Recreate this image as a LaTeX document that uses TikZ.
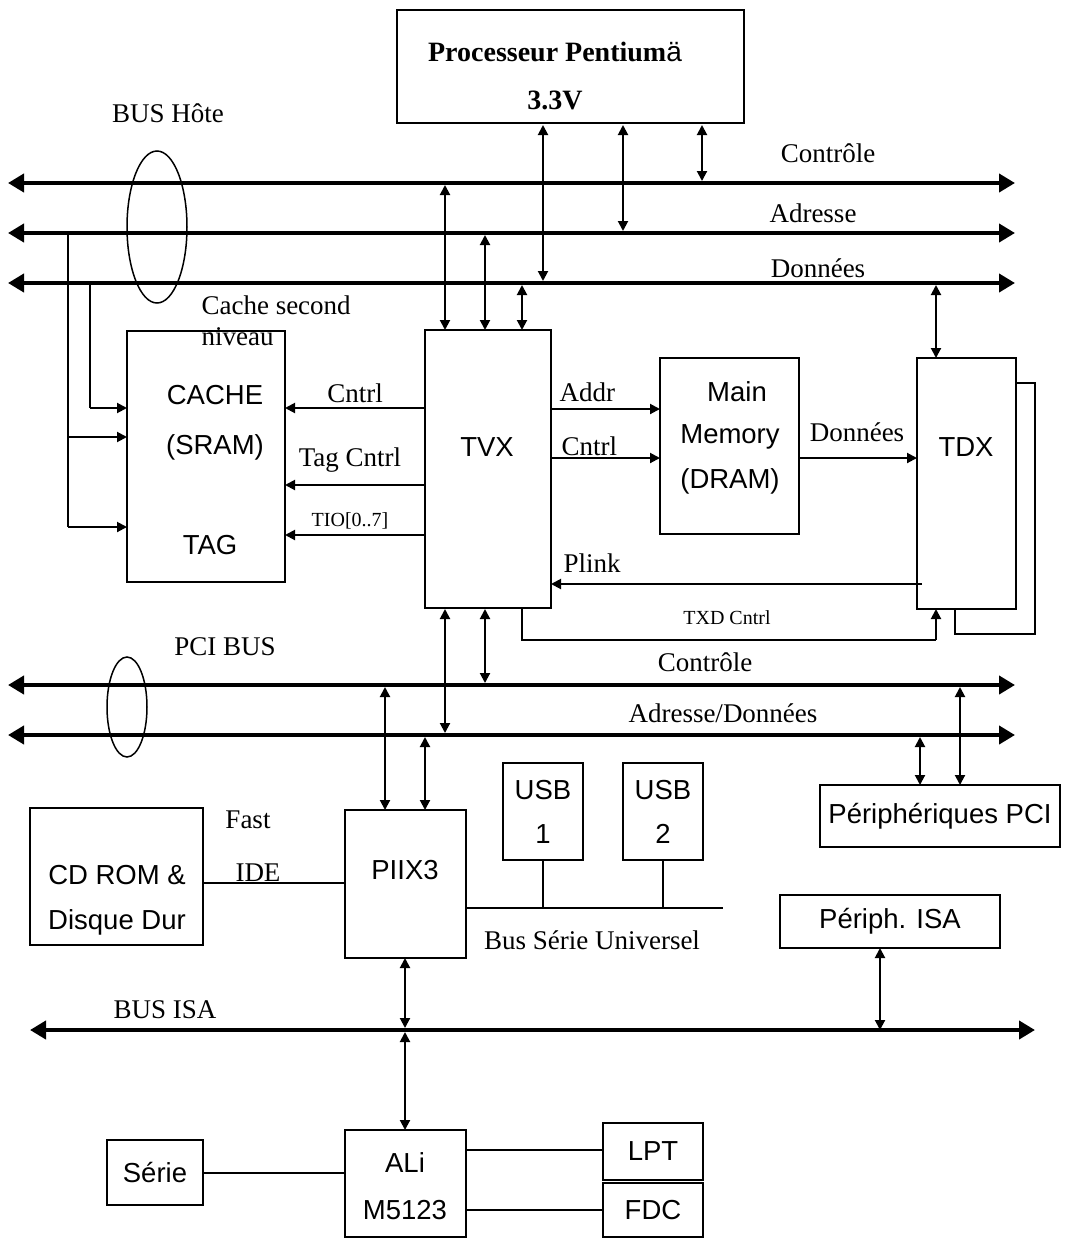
\documentclass[tikz,border=0pt]{standalone}
\usepackage{fontspec}
\setmainfont{Liberation Serif}
\setsansfont{Liberation Sans}
\usetikzlibrary{arrows.meta}
\begin{document}
\begin{tikzpicture}[x=1pt,y=-1pt,
  box/.style={draw,line width=2.2pt,font=\fontsize{27.5}{44}\sffamily},
  sf/.style={font=\fontsize{27.5}{44}\sffamily},
  lab/.style={font=\fontsize{27}{32}\selectfont},
  small/.style={font=\fontsize{20}{24}\selectfont},
  bus/.style={line width=4pt,{Triangle[length=16pt,width=18pt]}-{Triangle[length=16pt,width=18pt]}},
  dar/.style={line width=2pt,{Triangle[length=10pt,width=10pt]}-{Triangle[length=10pt,width=10pt]}},
  ar/.style={line width=2pt,-{Triangle[length=10pt,width=10pt]}},
  ln/.style={line width=2pt}]
\useasboundingbox (0,0) rectangle (1068,1259);
% processor
\draw[box] (397,10) rectangle (744,123);
\node[font=\fontsize{28}{32}\bfseries] (p1) at (555,52) {Processeur Pentium\textmd{\sffamily ä}};
\node[font=\fontsize{28}{32}\bfseries] (p2) at (555,100) {3.3V};
% host bus
\coordinate (cl) at (8,183); \coordinate (cr) at (1015,183);
\coordinate (al) at (8,233); \coordinate (ar) at (1015,233);
\coordinate (dl) at (8,283); \coordinate (dr) at (1015,283);
\draw[bus] (cl) -- (cr);
\draw[bus] (al) -- (ar);
\draw[bus] (dl) -- (dr);
\node[lab] (bh) at (168,113) {BUS Hôte};
\draw[line width=1.5pt] (157,227) ellipse (30 and 76);
\node[lab] (lc) at (828,153) {Contrôle};
\node[lab] (la) at (813,213) {Adresse};
\node[lab] (ld) at (818,268) {Données};
\draw[dar] (543,125) -- (543,281);
\draw[dar] (623,125) -- (623,231);
\draw[dar] (702,125) -- (702,181);
\node[lab,anchor=west] (csn) at (198,305) {Cache second};
\node[lab,anchor=west] (niv) at (198,337) {niveau};
% cache
\node[box,minimum width=158pt,minimum height=251pt] (cache) at (206,456.5) {};
\node[sf] at (215,395) {CACHE};
\node[sf] at (215,447) {(SRAM)};
\node[sf] at (210,545) {TAG};
\draw[ln] (68,233) -- (68,527);
\draw[ar] (68,437) -- (127,437);
\draw[ar] (68,527) -- (127,527);
\draw[ln] (90,283) -- (90,408);
\draw[ar] (90,408) -- (127,408);
% TVX
\node[box,minimum width=126pt,minimum height=278pt] (tvx) at (488,469) {};
\node[sf] at (487,447) {TVX};
\draw[dar] (445,185) -- (445,330);
\draw[dar] (485,235) -- (485,330);
\draw[dar] (522,285) -- (522,330);
\draw[ar] (425,408) -- (285,408);
\node[lab] at (355,393) {Cntrl};
\draw[ar] (425,485) -- (285,485);
\node[lab] at (350,460) {Tag Cntrl};
\draw[ar] (425,535) -- (285,535);
\node[small] at (350,521) {TIO[0..7]};
% main memory
\node[box,minimum width=139pt,minimum height=176pt] (mm) at (729.5,446) {};
\node[sf] at (737,392) {Main};
\node[sf] at (730,437) {Memory};
\node[sf] at (730,481) {(DRAM)};
\draw[ar] (551,409) -- (660,409);
\node[lab,anchor=west] at (556,392) {Addr};
\draw[ar] (551,458) -- (660,458);
\node[lab,anchor=west] at (558,446) {Cntrl};
\draw[ar] (799,458) -- (917,458);
\node[lab] at (857,432) {Données};
% TDX
\draw[line width=2.2pt] (1016,383) -- (1035,383) -- (1035,634) -- (955,634) -- (955,609);
\node[box,minimum width=99pt,minimum height=251pt] (tdx) at (966.5,483.5) {};
\node[sf] at (966,447) {TDX};
\draw[dar] (936,285) -- (936,358);
\draw[ar] (922,584) -- (551,584);
\node[lab,anchor=west] at (560,563) {Plink};
\draw[ln] (522,608) -- (522,640) -- (936,640);
\draw[ar] (936,640) -- (936,609);
\node[small] at (727,618) {TXD Cntrl};
% PCI bus
\node[lab] (pci) at (225,647) {PCI BUS};
\draw[line width=1.5pt] (127,707) ellipse (20 and 50);
\draw[bus] (8,685) -- (1015,685);
\draw[bus] (8,735) -- (1015,735);
\node[lab] at (705,662) {Contrôle};
\node[lab] at (723,713) {Adresse/Données};
\draw[dar] (445,609) -- (445,733);
\draw[dar] (485,609) -- (485,683);
% PIIX3
\node[box,minimum width=121pt,minimum height=148pt] (piix) at (405.5,884) {};
\node[sf] at (405,870) {PIIX3};
\draw[dar] (385,687) -- (385,810);
\draw[dar] (425,737) -- (425,810);
\node[box,minimum width=80pt,minimum height=97pt,align=center] (usb1) at (543,811.5) {USB\\1};
\node[box,minimum width=80pt,minimum height=97pt,align=center] (usb2) at (663,811.5) {USB\\2};
\draw[ln] (466,908) -- (723,908);
\draw[ln] (usb1.south) -- (543,908);
\draw[ln] (usb2.south) -- (663,908);
\node[lab] at (592,940) {Bus Série Universel};
\node[box,minimum width=240pt,minimum height=62pt] (pp) at (940,816) {Périphériques PCI};
\draw[dar] (920,737) -- (920,785);
\draw[dar] (960,687) -- (960,785);
\node[box,minimum width=173pt,minimum height=137pt] (cd) at (116.5,876.5) {};
\node[sf] at (117,875) {CD ROM \&};
\node[sf] at (117,922) {Disque Dur};
\draw[ln] (203,883) -- (345,883);
\node[lab] at (248,820) {Fast};
\node[lab] at (258,873) {IDE};
\node[box,minimum width=220pt,minimum height=53pt] (pisa) at (890,921.5) {Périph. ISA};
\draw[dar] (880,948) -- (880,1030);
% ISA bus
\draw[bus] (30,1030) -- (1035,1030);
\node[lab] at (165,1010) {BUS ISA};
\draw[dar] (405,958) -- (405,1028);
\draw[dar] (405,1032) -- (405,1130);
% ALi
\node[box,minimum width=121pt,minimum height=107pt] (ali) at (405.5,1183.5) {};
\node[sf] at (405,1163) {ALi};
\node[sf] at (405,1210) {M5123};
\node[box,minimum width=96pt,minimum height=65pt] (serie) at (155,1172.5) {Série};
\draw[ln] (203,1173) -- (345,1173);
\node[box,minimum width=100pt,minimum height=57pt] (lpt) at (653,1151.5) {LPT};
\node[box,minimum width=100pt,minimum height=54pt] (fdc) at (653,1210) {FDC};
\draw[ln] (466,1150) -- (603,1150);
\draw[ln] (466,1210) -- (603,1210);
\end{tikzpicture}
\end{document}
